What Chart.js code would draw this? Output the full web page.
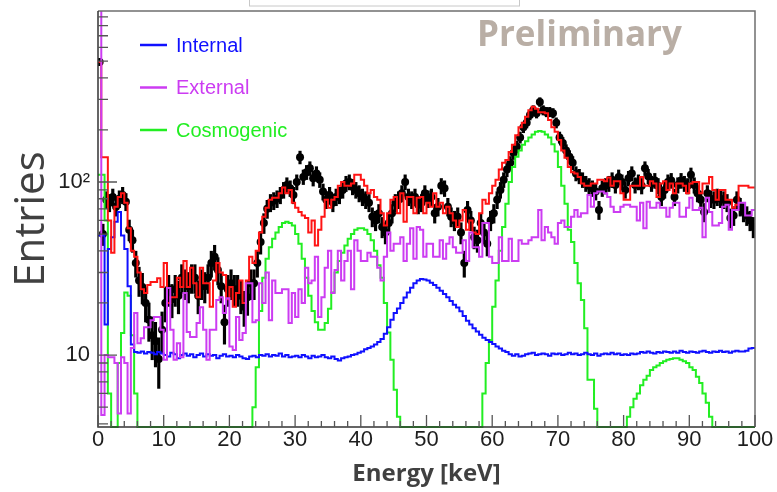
<!DOCTYPE html>
<html lang="en">
<head>
  <meta charset="UTF-8" />
  <title>Energy spectrum</title>
  <script src="https://cdn.jsdelivr.net/npm/chart.js"></script>
  <style>
    html, body { margin: 0; background: #fff; }
  </style>
</head>
<body>
  <canvas id="spectrum" width="777" height="492"></canvas>

  <script>
    // 200 bins of 0.5 keV from 0 to 100 keV
    const binWidth = 0.5;

    // measured entries per bin (one row = 5 keV)
    const dataCounts = [
      494, 50, 79, 76, 82, 72, 80, 84, 77, 53,
      46, 34, 27, 24.7, 20, 16, 13, 12, 9.5, 14,
      20, 24, 21, 24, 22, 28, 26, 25, 28, 28,
      22, 26, 25, 28, 34, 37, 31, 25, 15.5, 24,
      26, 24, 24, 22, 19, 21.6, 26, 26, 34, 45,
      58, 70, 76, 78, 80, 84, 90, 96, 92, 84,
      100, 139, 107, 114, 120, 105, 112, 103, 88, 79,
      84, 76, 82, 84, 90, 98, 100, 94, 90, 86,
      82, 79, 76, 63, 60, 66, 55, 51, 58, 66,
      76, 79, 86, 100, 82, 79, 82, 74, 76, 86,
      80, 82, 66, 72, 95, 92, 72, 63, 60, 63,
      51, 34, 69, 60, 48, 46, 58, 51, 44, 60,
      66, 79, 90, 103, 118, 129, 147, 160, 181, 207,
      220, 244, 260, 250, 290, 260, 254, 254, 250, 220,
      181, 168, 152, 140, 129, 112, 108, 103, 98, 95,
      92, 88, 69, 92, 95, 98, 103, 96, 107, 100,
      90, 105, 112, 96, 100, 95, 120, 108, 98, 102,
      95, 82, 90, 100, 102, 82, 96, 102, 98, 95,
      110, 96, 86, 79, 67, 86, 80, 79, 82, 80,
      79, 76, 62, 64, 79, 72, 67, 64, 60, 55
    ];

    const internal = [
      49, 49, 15, 41, 48, 59, 67, 49, 41, 25,
      11.5, 10.4, 10.3, 10.5, 10.2, 10.4, 10.3, 10.1, 10.4, 10.2,
      10.0, 9.8, 10.3, 10.1, 9.6, 10.0, 10.2, 9.9, 10.1, 9.7,
      10.0, 10.2, 9.8, 10.1, 9.9, 10.0, 9.6, 9.9, 10.1, 9.8,
      9.9, 9.7, 10.0, 9.8, 9.6, 9.5, 9.8, 9.9, 9.7, 10.0,
      9.9, 10.1, 9.8, 10.0, 9.9, 10.2, 9.8, 10.0, 9.7, 9.8,
      9.9, 9.7, 10.0, 9.8, 9.6, 9.9, 9.7, 9.8, 10.0, 9.7,
      9.6, 9.8, 9.5, 9.3, 9.6, 9.7, 9.8, 10.0, 10.1, 10.3,
      10.5, 10.8, 11.0, 11.2, 11.5, 11.9, 12.4, 13.3, 14.5, 16.0,
      17.5, 18.6, 20.0, 21.5, 23.0, 24.5, 26.0, 27.0, 27.5, 27.3,
      27.0, 26.2, 25.4, 24.5, 23.5, 22.5, 21.6, 20.5, 19.5, 18.8,
      17.9, 16.8, 15.8, 15.0, 14.3, 13.7, 13.1, 12.6, 12.2, 11.9,
      11.6, 11.2, 10.9, 10.6, 10.4, 10.1, 9.9, 10.1, 9.8, 9.9,
      10.1, 10.2, 10.3, 10.0, 10.1, 10.2, 10.1, 9.9, 10.2, 10.1,
      10.2, 10.0, 10.1, 10.3, 10.1, 10.2, 10.0, 10.1, 10.3, 10.1,
      10.0, 10.2, 9.9, 10.1, 10.2, 10.1, 10.3, 10.1, 10.2, 10.0,
      10.1, 10.0, 10.2, 10.1, 10.2, 10.4, 10.3, 10.5, 10.3, 10.2,
      10.4, 10.3, 10.5, 10.4, 10.3, 10.5, 10.3, 10.6, 10.4, 10.3,
      10.5, 10.4, 10.3, 10.5, 10.6, 10.4, 10.3, 10.5, 10.4, 10.6,
      10.4, 10.5, 10.3, 10.5, 10.6, 10.5, 10.5, 10.6, 10.9, 11.0
    ];

    const external = [
      3000, 4.5, 10, 9.7, 9.7, 9, 4.6, 9.7, 9, 4.6,
      11, 17.5, 11.7, 12.5, 14.5, 14.5, 15.9, 16.6, 16.6, 14,
      9.4, 24.4, 14, 9.4, 11.7, 9.7, 22.8, 13.6, 12.7, 12.7,
      15.3, 18.9, 14, 9.4, 14, 14, 20.8, 21.6, 17.5, 21.3,
      11.2, 10.7, 16.6, 12.2, 13.4, 26, 26, 15.5, 15.9, 26,
      20, 30, 15.9, 27, 22.8, 22.8, 24, 24, 15.3, 22.8,
      16.6, 24, 20, 32, 26, 27, 37, 16.6, 21.6, 32,
      40, 22.8, 31, 40, 27, 35, 40, 24, 46, 40,
      35, 35, 39, 37, 37, 32, 27, 37, 51, 40,
      44, 44, 48, 35, 44, 54, 36, 55, 53, 37,
      44, 44, 37, 37, 46, 36, 44, 48, 42, 39,
      39, 46, 35, 51, 42, 42, 37, 58, 58, 37,
      34, 34, 48, 35, 35, 47, 35, 35, 46, 44,
      44, 46, 48, 48, 69, 46, 55, 51, 48, 44,
      58, 60, 55, 55, 63, 69, 63, 66, 66, 84,
      72, 86, 88, 88, 86, 82, 72, 67, 67, 72,
      74, 74, 72, 72, 60, 76, 54, 77, 71, 71,
      76, 71, 71, 63, 71, 76, 76, 63, 63, 71,
      81, 69, 69, 71, 48, 81, 67, 56, 56, 58,
      72, 74, 53, 69, 69, 76, 76, 64, 64, 69
    ];

    const cosmogenic = [
      110, 110, 60, 6, 0, 0, 9, 13.4, 23, 22,
      13, 6, 0, 0, 0, 0, 0, 0, 0, 0,
      0, 0, 0, 0, 0, 0, 0, 0, 0, 0,
      0, 0, 0, 0, 0, 0, 0, 0, 0, 0,
      0, 0, 0, 0, 0, 0, 0, 5, 8.5, 18,
      28, 36, 42, 47, 51, 55, 58, 59, 58, 56,
      50, 44, 36, 28, 22, 18, 15.5, 14, 14, 15.3,
      18.5, 23, 30, 35, 39, 43, 47, 50, 53, 54,
      54, 53, 50, 46, 40, 33, 28, 20, 13.5, 9.4,
      6.3, 4.4, 0, 0, 0, 0, 0, 0, 0, 0,
      0, 0, 0, 0, 0, 0, 0, 0, 0, 0,
      0, 0, 0, 0, 0, 0, 0, 6, 9, 12.2,
      19, 27, 40, 55, 75, 100, 122, 140, 152, 164,
      172, 181, 188, 195, 197, 195, 188, 181, 165, 150,
      122, 95, 75, 53, 45, 34, 26, 20.8, 14.3, 7.2,
      7.2, 4.9, 0, 0, 0, 0, 0, 0, 0, 0,
      0, 4.4, 5, 5.6, 6, 6.7, 7.2, 7.6, 8.2, 8.5,
      8.7, 9, 9.2, 9.4, 9.5, 9.6, 9.6, 9.4, 9.2, 9,
      8.5, 8.2, 7.5, 6.9, 6, 5.3, 4.4, 0, 0, 0,
      0, 0, 0, 0, 0, 0, 0, 0, 0, 0
    ];

    // sum of the fitted components
    const totalFit = [
      494, 139, 139, 60, 39, 72, 82, 86, 76, 54,
      40, 37, 30, 24, 22.8, 25.4, 26.4, 26.4, 27.8, 24.7,
      34, 20, 21.6, 21.6, 28, 24.7, 35, 24.7, 32, 26,
      21.6, 32, 26, 26, 19, 27, 34, 30, 29, 21,
      24.7, 19, 22.8, 27, 20, 27, 37, 34, 40, 51,
      63, 71, 79, 81, 81, 86, 93, 86, 90, 76,
      71, 67, 64, 62, 51, 60, 43, 53, 63, 79,
      71, 79, 82, 95, 100, 95, 95, 98, 110, 110,
      103, 95, 86, 90, 82, 79, 66, 56, 66, 79,
      82, 66, 86, 59, 82, 82, 66, 81, 82, 66,
      76, 72, 86, 72, 76, 66, 72, 66, 60, 55,
      60, 69, 53, 60, 51, 50, 66, 79, 75, 86,
      95, 103, 118, 129, 134, 149, 164, 186, 207, 220,
      238, 260, 272, 265, 253, 253, 250, 228, 207, 195,
      175, 152, 138, 122, 114, 112, 107, 98, 95, 95,
      98, 98, 103, 103, 101, 106, 95, 101, 101, 86,
      79, 79, 95, 95, 95, 107, 95, 95, 101, 98,
      82, 98, 101, 90, 98, 86, 98, 98, 95, 86,
      98, 100, 100, 86, 98, 98, 107, 90, 79, 90,
      90, 79, 79, 71, 74, 95, 95, 95, 93, 93
    ];

    const yTickValues = [10, 100];
    const yTickLabels = { 10: '10', 100: '10\u00B2' };
    const Y_MIN = 3.84;
    const Y_MAX = 973;

    const COLORS = {
      internal: '#1010ff',
      external: '#cc3cf2',
      cosmogenic: '#22ee22',
      total: '#ff1414',
      data: '#000000'
    };

    // histogram outline: one point per left bin edge, plus the closing edge.
    // empty bins sit on the lower edge of the frame.
    function histPoints(counts) {
      const pts = counts.map((v, i) => ({ x: i * binWidth, y: v > 0 ? v : Y_MIN }));
      pts.push({ x: counts.length * binWidth, y: pts[pts.length - 1].y });
      return pts;
    }

    function histLine(label, counts, color, order, inLegend) {
      return {
        type: 'line',
        label: label,
        data: histPoints(counts),
        borderColor: color,
        borderWidth: 2,
        stepped: true,
        pointRadius: 0,
        fill: false,
        order: order,
        inLegend: inLegend,
        clip: { left: 0, top: 0, right: 0, bottom: 2 }
      };
    }

    const centres = dataCounts.map((_, i) => (i + 0.5) * binWidth);

    // fixed axis boxes so the frame lands where it should
    function fixBox(width, height) {
      return scale => {
        if (width) scale.width = width;
        if (height) scale.height = height;
        scale.paddingTop = 0;
        scale.paddingBottom = 0;
        scale.paddingLeft = 0;
        scale.paddingRight = 0;
      };
    }

    // draws frame, inward ticks, legend and the overlay texts
    const rootStyle = {
      id: 'rootStyle',
      afterDatasetsDraw(chart) {
        const { ctx, chartArea: a, scales: { x, y } } = chart;
        ctx.save();

        ctx.strokeStyle = '#6f6f6f';
        ctx.lineWidth = 1.5;
        ctx.beginPath();
        ctx.moveTo(a.left, a.top);
        ctx.lineTo(a.right, a.top);
        ctx.lineTo(a.right, a.bottom);
        ctx.stroke();

        ctx.strokeStyle = '#333';
        ctx.beginPath();
        ctx.moveTo(a.left, a.top);
        ctx.lineTo(a.left, a.bottom);
        ctx.lineTo(a.right, a.bottom);
        ctx.stroke();

        ctx.strokeStyle = '#555';
        ctx.lineWidth = 1.3;
        ctx.beginPath();
        for (let e = 0; e <= 100; e += 2) {
          const px = x.getPixelForValue(e);
          const len = e % 10 === 0 ? 12 : 6;
          ctx.moveTo(px, a.bottom);
          ctx.lineTo(px, a.bottom - len);
        }
        for (const decade of [1, 10, 100]) {
          for (let m = 1; m <= 9; m++) {
            const v = m * decade;
            if (v < y.min || v > y.max) continue;
            const py = y.getPixelForValue(v);
            ctx.moveTo(a.left, py);
            ctx.lineTo(a.left + (m === 1 ? 19 : 10), py);
          }
        }
        ctx.stroke();
        ctx.restore();
      },
      afterDraw(chart) {
        const { ctx, chartArea: a } = chart;
        ctx.save();

        // legend
        const entries = chart.data.datasets.filter(d => d.inLegend);
        entries.sort((p, q) => p.inLegend - q.inLegend);
        ctx.font = '20px "Liberation Sans", Arial, sans-serif';
        ctx.textBaseline = 'middle';
        entries.forEach((d, i) => {
          const yy = a.top + 34 + i * 42.5;
          ctx.strokeStyle = d.borderColor;
          ctx.lineWidth = 2.5;
          ctx.beginPath();
          ctx.moveTo(a.left + 42, yy);
          ctx.lineTo(a.left + 69, yy);
          ctx.stroke();
          ctx.fillStyle = d.borderColor;
          ctx.fillText(d.label, a.left + 78, yy + 1);
        });

        ctx.font = 'bold 35px "Open Sans", sans-serif';
        ctx.fillStyle = '#b9aea5';
        ctx.textBaseline = 'alphabetic';
        ctx.fillText('Preliminary', 477, 46);

        ctx.strokeStyle = '#c8c8c8';
        ctx.lineWidth = 1;
        ctx.strokeRect(249.5, -3, 270, 9);
        ctx.restore();
      }
    };

    const ctx = document.getElementById('spectrum').getContext('2d');

    const chart = new Chart(ctx, {
      type: 'line',
      data: {
        datasets: [
          histLine('External', external, COLORS.external, 0, 2),
          histLine('Total', totalFit, COLORS.total, 1, 0),
          histLine('Internal', internal, COLORS.internal, 2, 1),
          histLine('Cosmogenic', cosmogenic, COLORS.cosmogenic, 3, 3),
          {
            type: 'line',
            label: 'Data',
            data: dataCounts.map((v, i) => ({ x: centres[i], y: v })),
            showLine: false,
            pointRadius: 4,
            pointBackgroundColor: COLORS.data,
            pointBorderWidth: 0,
            order: 4
          },
          {
            type: 'bar',
            label: 'Errors',
            data: dataCounts.map((v, i) => ({ x: centres[i], y: [v - Math.sqrt(v), v + Math.sqrt(v)] })),
            backgroundColor: COLORS.data,
            borderWidth: 0,
            barThickness: 2.5,
            grouped: false,
            order: 5
          }
        ]
      },
      options: {
        responsive: false,
        animation: false,
        events: [],
        layout: { padding: { top: 11, right: 22, bottom: 0, left: 0 } },
        scales: {
          x: {
            type: 'linear',
            min: 0,
            max: 100,
            offset: false,
            grid: { display: false, drawTicks: false },
            border: { display: false },
            ticks: {
              stepSize: 10,
              autoSkip: false,
              maxRotation: 0,
              padding: 0,
              color: '#1e1e1e',
              font: { family: '"Liberation Sans", Arial, sans-serif', size: 22 }
            },
            title: {
              display: true,
              text: 'Energy [keV]',
              color: '#404040',
              font: { family: '"Open Sans", sans-serif', weight: 'bold', size: 24 },
              padding: { top: 0, bottom: 3 }
            },
            afterFit: fixBox(0, 65)
          },
          y: {
            type: 'logarithmic',
            min: Y_MIN,
            max: Y_MAX,
            beginAtZero: false,
            grid: { display: false, drawTicks: false },
            border: { display: false },
            afterBuildTicks: scale => { scale.ticks = yTickValues.map(value => ({ value })); },
            ticks: {
              padding: 8,
              color: '#1e1e1e',
              font: { family: '"Liberation Sans", Arial, sans-serif', size: 22 },
              callback: value => yTickLabels[value] || ''
            },
            title: {
              display: true,
              text: 'Entries',
              color: '#404040',
              font: { family: '"Open Sans", sans-serif', size: 42 },
              padding: { top: 7, bottom: 0 }
            },
            afterFit: fixBox(98, 0)
          }
        },
        plugins: {
          legend: { display: false },
          tooltip: { enabled: false }
        }
      },
      plugins: [rootStyle]
    });
  </script>
</body>
</html>
